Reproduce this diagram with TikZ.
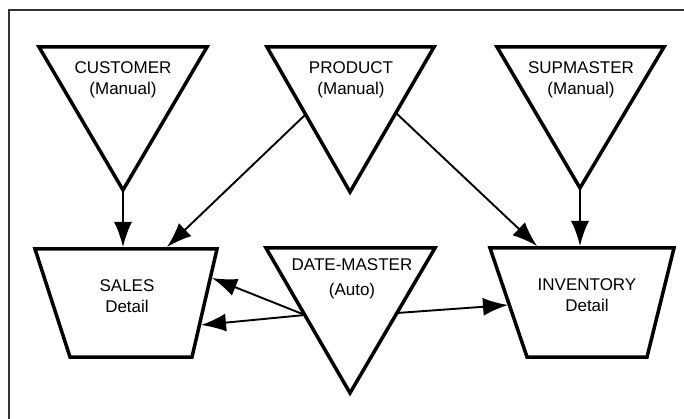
\documentclass[tikz,border=0pt]{standalone}
\usepackage{fontspec}
\setmainfont{Liberation Sans}
\usepackage{tikz}
\usetikzlibrary{arrows.meta}

\begin{document}
\begin{tikzpicture}[x=1pt,y=-1pt]

	\tikzstyle file shape=[line width=3.5pt, line join=miter];
	\tikzstyle file text=[font=\fontsize{17}{20.5}\selectfont, align=center, inner sep=0pt];
	\tikzstyle flow lines=[line width=1.9pt, -{Latex[length=25pt,width=18pt]}];
	\tikzstyle frame lines=[line width=1.3pt, black!80];

	\useasboundingbox (0,0) rectangle (684,419);
	\draw[frame lines] (9,419) -- (9,10) -- (684,10);

	% master files
	\draw[file shape] (39,47) -- (207,47) -- (123,190) -- cycle;
	\node[file text] (customer) at (123,80) {CUSTOMER\\(Manual)};
	\draw[file shape] (267,47) -- (434,47) -- (350,192) -- cycle;
	\node[file text] (product) at (351,80) {PRODUCT\\(Manual)};
	\draw[file shape] (497,47) -- (664,47) -- (580,188) -- cycle;
	\node[file text] (supmaster) at (581,80) {SUPMASTER\\(Manual)};
	\draw[file shape] (266,248) -- (435,248) -- (350,393) -- cycle;
	\node[file text] (datemaster) at (352,279) {DATE-MASTER\\[5pt](Auto)};

	% detail files
	\draw[file shape] (35,249) -- (217,249) -- (192,357) -- (70,357) -- cycle;
	\node[file text] (sales) at (127,296) {SALES\\Detail};
	\draw[file shape] (490,248) -- (674,248) -- (647,357) -- (527,357) -- cycle;
	\node[file text] (inventory) at (587,295) {INVENTORY\\Detail};

	% connector ends
	\coordinate (customer tip) at (123,190);
	\coordinate (product left) at (305,115);
	\coordinate (product right) at (396,113);
	\coordinate (supmaster tip) at (580,188);
	\coordinate (datemaster left) at (305,315);
	\coordinate (datemaster right) at (397,313);
	\coordinate (sales top a) at (123,247);
	\coordinate (sales top b) at (167,247);
	\coordinate (sales side a) at (212,278);
	\coordinate (sales side b) at (201,325);
	\coordinate (inventory top a) at (537,246);
	\coordinate (inventory top b) at (580,246);
	\coordinate (inventory side) at (508,305);

	\draw[flow lines] (customer tip) -- (sales top a);
	\draw[flow lines] (product left) -- (sales top b);
	\draw[flow lines] (product right) -- (inventory top a);
	\draw[flow lines] (supmaster tip) -- (inventory top b);
	\draw[flow lines] (datemaster left) -- (sales side a);
	\draw[flow lines] (datemaster left) -- (sales side b);
	\draw[flow lines] (datemaster right) -- (inventory side);

\end{tikzpicture}
\end{document}
